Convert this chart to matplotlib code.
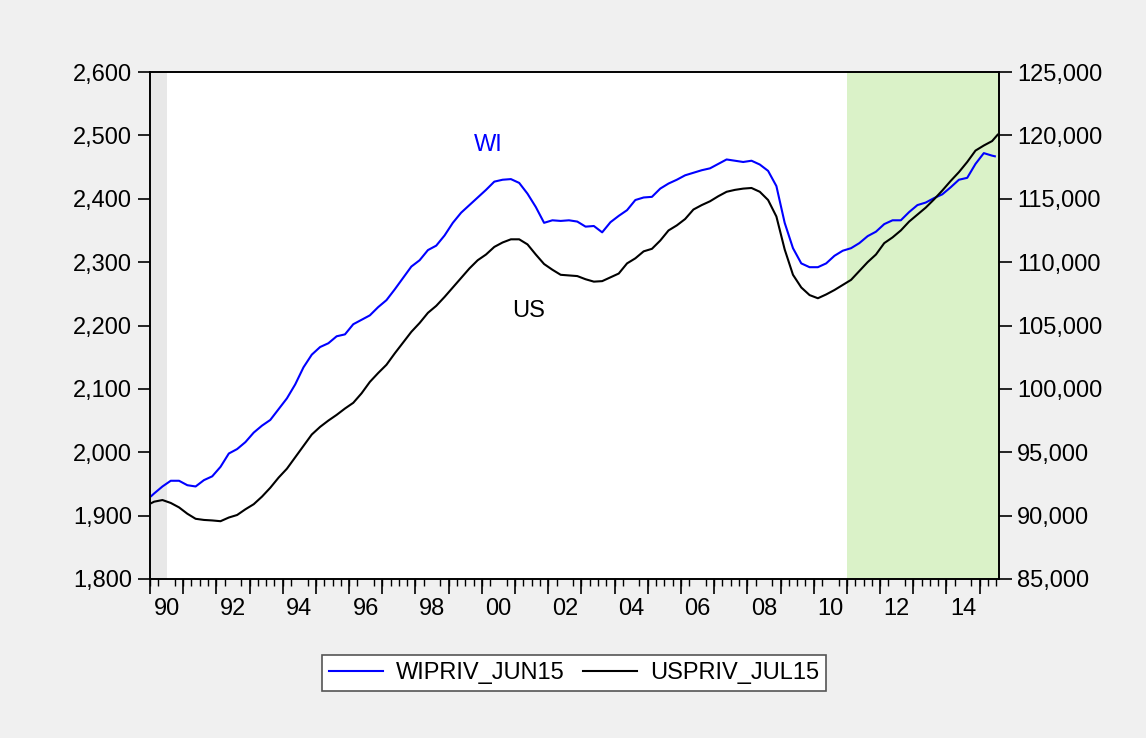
import matplotlib
matplotlib.use('Agg')
import matplotlib.pyplot as plt
import matplotlib.ticker as mticker
import numpy as np

plt.rcParams['font.family'] = ['Liberation Sans', 'DejaVu Sans']

# quarterly readings, 1990Q1 .. 2015Q2 (value at the middle month of each quarter)
wi_q = [1935, 1946, 1955, 1955,  1948, 1946, 1956, 1962,
        1977, 1998, 2005, 2016,  2031, 2042, 2051, 2068,
        2085, 2107, 2134, 2154,  2166, 2172, 2183, 2186,
        2202, 2209, 2216, 2229,  2240, 2257, 2275, 2293,
        2303, 2319, 2326, 2342,  2362, 2378, 2390, 2402,
        2414, 2427, 2430, 2431,  2425, 2408, 2387, 2362,
        2366, 2365, 2366, 2364,  2356, 2357, 2347, 2363,
        2373, 2382, 2398, 2402,  2403, 2416, 2424, 2430,
        2437, 2441, 2445, 2448,  2455, 2462, 2460, 2458,
        2460, 2454, 2444, 2420,  2362, 2322, 2298, 2292,
        2292, 2298, 2310, 2318,  2322, 2330, 2341, 2348,
        2360, 2366, 2366, 2379,  2390, 2394, 2401, 2407,
        2418, 2430, 2433, 2455,  2472, 2468]
us_q = [91100, 91230, 91000, 90650,  90150, 89750, 89660, 89620,
        89560, 89850, 90050, 90500,  90900, 91500, 92200, 93000,
        93700, 94600, 95500, 96400,  97000, 97500, 97950, 98450,
        98900, 99650, 100550, 101250,  101900, 102800, 103650, 104500,
        105200, 106000, 106550, 107250,  108000, 108750, 109500, 110150,
        110600, 111200, 111550, 111800,  111800, 111400, 110600, 109850,
        109400, 109000, 108950, 108900,  108650, 108460, 108500, 108800,
        109100, 109900, 110300, 110850,  111050, 111700, 112500, 112900,
        113400, 114150, 114500, 114800,  115200, 115550, 115700, 115800,
        115850, 115550, 114900, 113600,  111000, 109000, 108000, 107400,
        107150, 107450, 107800, 108200,  108600, 109300, 110000, 110600,
        111500, 111950, 112500, 113200,  113750, 114300, 114950, 115650,
        116400, 117100, 117900, 118800,  119200, 119550]
wi_first, wi_last = 1931, 2467      # 1990M01, 2015M06
us_first, us_last = 90990, 120050   # 1990M01, 2015M07

wi_ticks = list(range(1800, 2601, 100))
us_ticks = list(range(85000, 125001, 5000))
year_labels = ['90', '92', '94', '96', '98', '00', '02', '04', '06', '08', '10', '12', '14']

grey_span = (1990.0, 1990.5)
green_span = (2011.0, 2015.583)

tq = 1990 + (np.arange(len(wi_q)) * 3 + 1.5) / 12
t_wi = np.concatenate([[1990 + 0.5 / 12], tq, [2015 + 5.5 / 12]])
t_us = np.concatenate([[1990 + 0.5 / 12], tq, [2015 + 6.5 / 12]])
wi = np.concatenate([[wi_first], wi_q, [wi_last]])
us = np.concatenate([[us_first], us_q, [us_last]])

FS = 17

fig = plt.figure(figsize=(11.46, 7.38), dpi=100, facecolor='#f0f0f0')
ax = fig.add_axes([150 / 1146, 1 - 579 / 738, 849 / 1146, 507 / 738])
ax.set_facecolor('white')

ax.axvspan(*grey_span, color='#e8e8e8', lw=0, zorder=0)
ax.axvspan(*green_span, color='#daf2c8', lw=0, zorder=0)

l1, = ax.plot(t_wi, wi, color='#0000ff', lw=1.5, label='WIPRIV_JUN15')
ax2 = ax.twinx()
l2, = ax2.plot(t_us, us, color='black', lw=1.5, label='USPRIV_JUL15')

ax.set_xlim(1990.0, 2015.583)
ax.set_ylim(1800, 2600)
ax2.set_ylim(85000, 125000)
ax.set_yticks(wi_ticks)
ax2.set_yticks(us_ticks)
fmt = mticker.FuncFormatter(lambda v, p: f'{int(v):,}')
ax.yaxis.set_major_formatter(fmt)
ax2.yaxis.set_major_formatter(fmt)

ax.set_xticks([1990.5 + 2 * i for i in range(len(year_labels))])
ax.set_xticklabels(year_labels)
ax.set_xticks(np.arange(1990, 2015.6, 0.25), minor=True)
ax.tick_params(axis='x', which='major', length=0, pad=14, labelsize=FS)
ax.tick_params(axis='x', which='minor', length=5, width=1.0)
sec = ax.secondary_xaxis('bottom')
sec.set_xticks(np.arange(1990, 2016, 1))
sec.set_xticklabels([])
sec.tick_params(length=11, width=1.2)
sec.spines['bottom'].set_visible(False)

ax.tick_params(axis='y', length=9, width=1.2, pad=4, labelsize=FS)
ax2.tick_params(axis='y', length=9, width=1.2, pad=4, labelsize=FS)
for a in (ax, ax2):
    for s in a.spines.values():
        s.set_linewidth(1.2)
        s.set_color('black')

ax.text(2000.18, 2485, 'WI', color='#0000ff', fontsize=FS, ha='center', va='center')
ax.text(2001.42, 2223, 'US', color='black', fontsize=FS, ha='center', va='center')

leg = fig.legend([l1, l2], [l1.get_label(), l2.get_label()], loc='center',
                 bbox_to_anchor=(0.501, 0.088), ncol=2, fontsize=FS,
                 frameon=True, fancybox=False, handlelength=2.3,
                 columnspacing=0.75, borderpad=0.3, borderaxespad=0,
                 handletextpad=0.55)
leg.get_frame().set_edgecolor('#555555')
leg.get_frame().set_linewidth(1.2)
leg.get_frame().set_alpha(1)

fig.savefig('out.png', dpi=100, facecolor=fig.get_facecolor())
